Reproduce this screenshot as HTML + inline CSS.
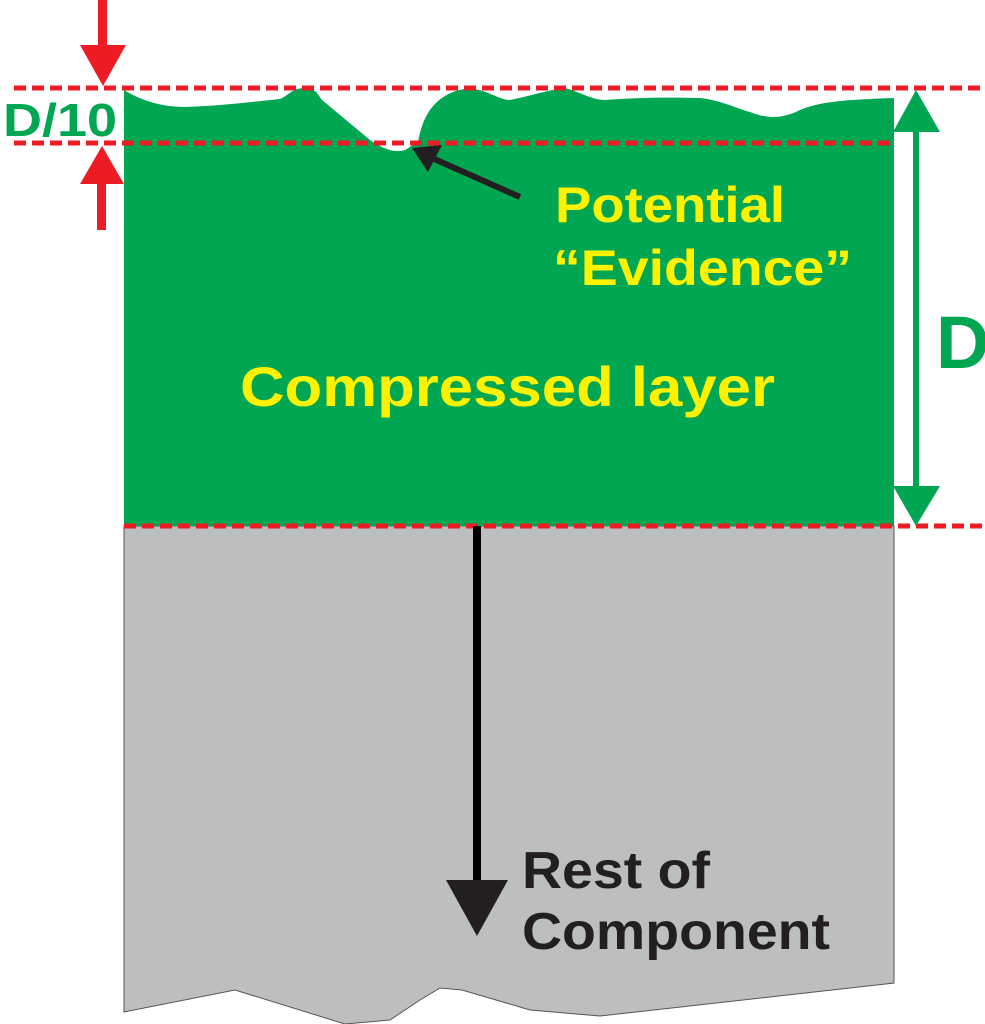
<!DOCTYPE html>
<html><head><meta charset="utf-8"><style>
html,body{margin:0;padding:0;background:#fff;width:985px;height:1024px;overflow:hidden}
svg{display:block}
text{font-family:"Liberation Sans",Arial,sans-serif;font-weight:bold}
</style></head><body>
<svg width="985" height="1024" viewBox="0 0 985 1024" xmlns="http://www.w3.org/2000/svg">
<path d="M124,526 L894,526 L894,983 L600,1016 L530,1010 L462,990 L440,988 L420,1000 L390,1020 L345,1024 L235,990 L124,1012 Z" fill="#bcbec0" stroke="#555" stroke-width="1"/>
<path d="M124,90 C140,100 160,107 185,107 C220,106 250,102 280,99 C288,96 292,88 305,88 C316,88 318,95 322,100 L370,140 C385,150 395,153 405,150 L418,142 C422,120 430,105 445,96 C455,90 465,88 475,89 C490,92 500,100 510,100 C530,96 548,90 565,88 C580,92 592,100 605,100 C630,98 660,97 700,98 C720,100 735,108 750,112 C765,118 780,120 800,110 C820,102 840,100 894,98 L894,526 L124,526 Z" fill="#00a651"/>
<g stroke="#ed1c24" stroke-width="5" stroke-dasharray="12,6" fill="none">
<line x1="14" y1="88" x2="985" y2="88"/>
<line x1="14" y1="143" x2="894" y2="143"/>
<line x1="124" y1="526" x2="985" y2="526"/>
</g>
<g fill="#ed1c24">
<rect x="98" y="0" width="9" height="48"/>
<polygon points="80,45 126,45 103,86"/>
<polygon points="80,184 124,184 102,146"/>
<rect x="97" y="182" width="9" height="48"/>
</g>
<text x="3" y="136" font-size="46" fill="#00a651" textLength="114" lengthAdjust="spacingAndGlyphs">D/10</text>
<g fill="#00a651">
<rect x="913" y="132" width="6" height="355"/>
<polygon points="893,132 940,132 916,90"/>
<polygon points="893,486 940,486 916,526"/>
</g>
<text x="936" y="368" font-size="74" fill="#00a651">D</text>
<line x1="520" y1="197" x2="432" y2="158" stroke="#231f20" stroke-width="6"/>
<polygon points="412,148 442,145 428,172" fill="#231f20"/>
<text x="555" y="222" font-size="50" fill="#fff200" textLength="230" lengthAdjust="spacingAndGlyphs">Potential</text>
<text x="553" y="285" font-size="50" fill="#fff200" textLength="299" lengthAdjust="spacingAndGlyphs">“Evidence”</text>
<text x="240" y="406" font-size="56" fill="#fff200" textLength="535" lengthAdjust="spacingAndGlyphs">Compressed layer</text>
<rect x="473" y="526" width="8" height="356"/>
<polygon points="446,880 508,880 477,936" fill="#231f20"/>
<text x="522" y="888" font-size="52" fill="#231f20" textLength="188" lengthAdjust="spacingAndGlyphs">Rest of</text>
<text x="522" y="949" font-size="52" fill="#231f20" textLength="308" lengthAdjust="spacingAndGlyphs">Component</text>
</svg>
</body></html>
